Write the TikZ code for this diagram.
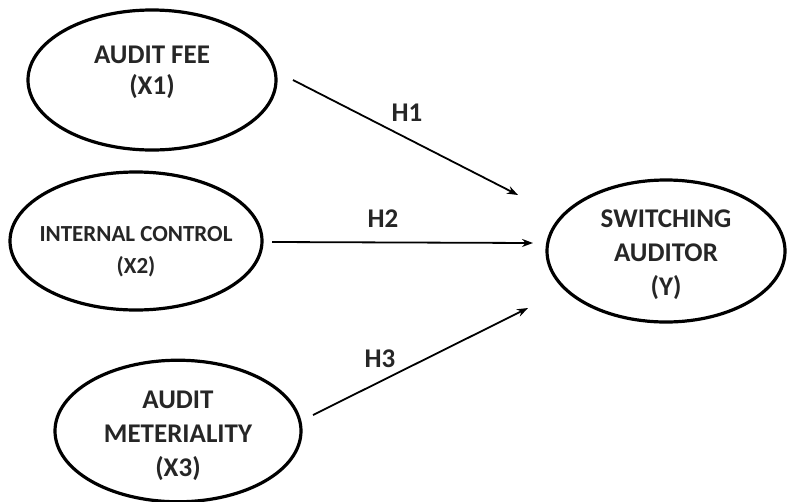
\documentclass[tikz,border=0pt]{standalone}
\usepackage{fontspec}
\setmainfont{Carlito}
\usetikzlibrary{shapes.geometric,arrows.meta}

\tikzset{
  var/.style={draw, ellipse, line width=3.2pt, align=center, inner sep=0pt,
    font=\bfseries\fontsize{27}{34}\selectfont, text=black!85},
  hyp/.style={font=\bfseries\fontsize{27}{30}\selectfont, text=black!85},
  path/.style={-{Stealth[length=11pt,width=8pt]}, line width=1.8pt}
}

\begin{document}
\begin{tikzpicture}[x=1pt,y=-1pt]
\useasboundingbox (0,0) rectangle (787,501);

% the three independent variables
\node[var, minimum width=248pt, minimum height=140pt, text depth=19pt,
  font=\bfseries\fontsize{27}{31}\selectfont] (fee) at (152,80) {AUDIT FEE\\(X1)};
\node[var, minimum width=252pt, minimum height=138pt, inner xsep=-30pt, text height=68pt,
  font=\bfseries\fontsize{23}{32}\selectfont] (ic) at (136,241) {INTERNAL CONTROL\\(X2)};
\node[var, minimum width=246pt, minimum height=138pt, text height=96pt] (mat) at (178,431) {AUDIT\\METERIALITY\\(X3)};

% dependent variable
\node[var, minimum width=238pt, minimum height=142pt, text height=94pt] (sw) at (666,251) {SWITCHING\\AUDITOR\\(Y)};

% arrow ends
\coordinate (s1) at (293,80);
\coordinate (t1) at (518,195);
\coordinate (s2) at (272,242);
\coordinate (t2) at (533,243);
\coordinate (s3) at (313,415);
\coordinate (t3) at (528,308);

\draw[path] (s1) -- (t1);
\draw[path] (s2) -- (t2);
\draw[path] (s3) -- (t3);

\node[hyp] (h1) at (407,113) {H1};
\node[hyp] (h2) at (383,219) {H2};
\node[hyp] (h3) at (380,359) {H3};

\end{tikzpicture}
\end{document}
